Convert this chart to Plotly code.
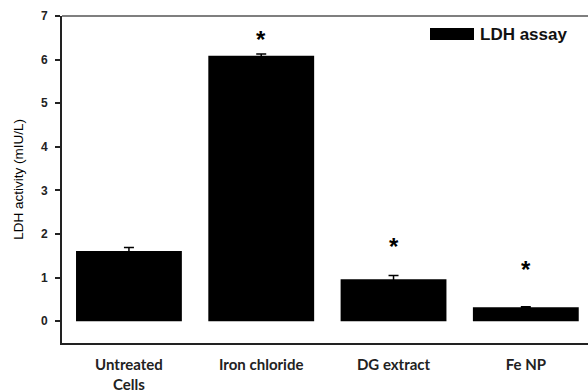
import plotly.graph_objects as go

categories = ["Untreated<br>Cells", "Iron chloride", "DG extract", "Fe NP"]
ldh_values = [1.61, 6.09, 0.96, 0.32]
ldh_errors = [0.08, 0.04, 0.09, 0.01]
star_y = [None, 6.45, 1.72, 1.19]
y_ticks = [0, 1, 2, 3, 4, 5, 6, 7]
series_name = "LDH assay"

fig = go.Figure()
fig.add_trace(go.Bar(
    x=list(range(len(categories))),
    y=ldh_values,
    width=0.8,
    marker=dict(color="black", line=dict(color="black", width=0)),
    error_y=dict(type="data", array=ldh_errors, color="black", thickness=1.5, width=5),
    name=series_name,
    showlegend=False,
))

for i, sy in enumerate(star_y):
    if sy is not None:
        fig.add_annotation(x=i, y=sy, text="<b>*</b>", showarrow=False,
                           font=dict(family="Liberation Sans", size=24, color="black"),
                           xref="x", yref="y")

# legend drawn manually (wide swatch)
fig.add_shape(type="rect", xref="paper", yref="paper",
              x0=(430 - 62) / 526, x1=(474 - 62) / 526,
              y0=(343 - 40) / 327, y1=(343 - 28) / 327,
              fillcolor="black", line=dict(width=0))
fig.add_annotation(xref="paper", yref="paper", x=(478 - 62) / 526, y=(343 - 34) / 327,
                   xanchor="left", yanchor="middle", showarrow=False,
                   text="<b>" + series_name + "</b>",
                   font=dict(family="Liberation Sans", size=17, color="#111111", weight="bold"))

# top frame line
fig.add_shape(type="line", xref="paper", yref="paper", x0=0, x1=1, y0=1, y1=1,
              line=dict(color="#555555", width=1.5))

fig.update_layout(
    width=588, height=392,
    margin=dict(l=62, r=0, t=16, b=49),
    plot_bgcolor="white", paper_bgcolor="white",
    xaxis=dict(
        range=[-0.506, 3.47],
        tickmode="array", tickvals=list(range(len(categories))),
        ticktext=["<b>" + c + "</b>" for c in categories],
        tickfont=dict(family="Lato", size=15, color="#222222", weight="bold"),
        ticklabelstandoff=7,
        showline=True, linecolor="#222222", linewidth=2,
        ticks="", showgrid=False, zeroline=False,
    ),
    yaxis=dict(
        range=[-0.5, 7],
        tickmode="array", tickvals=y_ticks,
        ticktext=["<b>" + str(t) + "</b>" for t in y_ticks],
        tickfont=dict(family="Liberation Sans", size=12, color="#222222", weight="bold"),
        ticklabelstandoff=5,
        showline=True, linecolor="#222222", linewidth=2,
        ticks="outside", ticklen=5, tickwidth=1.5, tickcolor="#222222",
        showgrid=False, zeroline=False,
        title=dict(text="LDH activity (mIU/L)",
                   font=dict(family="Liberation Sans", size=13.5, color="black"),
                   standoff=14),
    ),
)

fig.write_html("out.html")
